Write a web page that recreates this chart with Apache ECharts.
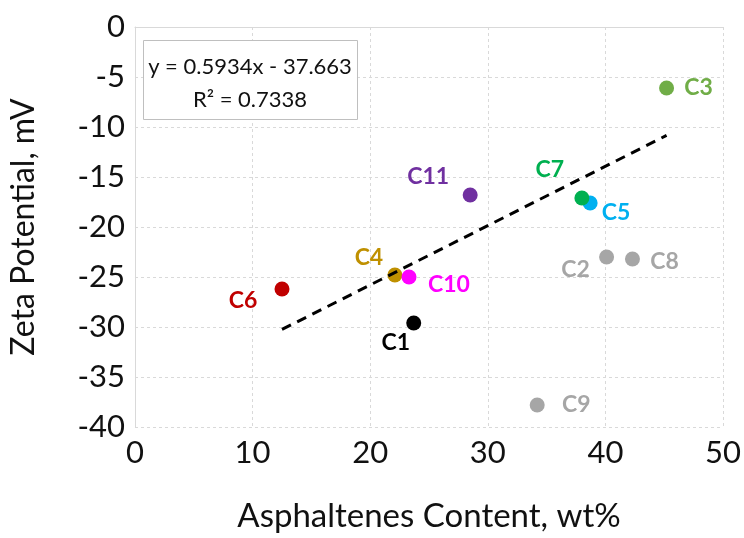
<!DOCTYPE html>
<html>
<head>
<meta charset="utf-8">
<script src="https://cdn.jsdelivr.net/npm/echarts@6/dist/echarts.min.js"></script>
<style>
  html, body { margin: 0; padding: 0; background: #fff; }
  #chart { width: 744px; height: 538px; }
</style>
</head>
<body>
<div id="chart"></div>
<script>
// Crude oil samples: asphaltene content vs. zeta potential
const sampleNames = ['C1', 'C2', 'C3', 'C4', 'C5', 'C6', 'C7', 'C8', 'C9', 'C10', 'C11'];
const asphaltenes = [23.7, 40.1, 45.2, 22.1, 38.7, 12.5, 38.0, 42.3, 34.2, 23.3, 28.5];
const zetaPotential = [-29.6, -23.0, -6.1, -24.8, -17.6, -26.2, -17.1, -23.2, -37.8, -25.0, -16.8];

// Linear fit reported for the data
const fitSlope = 0.5934;
const fitIntercept = -37.663;
const fitR2 = 0.7338;

const xTicks = [0, 10, 20, 30, 40, 50];
const yTicks = [0, -5, -10, -15, -20, -25, -30, -35, -40];

// Marker colour and label offset per sample
const sampleStyle = {
  C1:  { color: '#000000', offset: [-18, 20] },
  C2:  { color: '#a6a6a6', offset: [-31, 13] },
  C3:  { color: '#70ad47', offset: [32, 0] },
  C4:  { color: '#bf9000', offset: [-26, -17] },
  C5:  { color: '#00b0f0', offset: [26, 10] },
  C6:  { color: '#c00000', offset: [-39, 12] },
  C7:  { color: '#00b050', offset: [-32, -28] },
  C8:  { color: '#a6a6a6', offset: [32, 3] },
  C9:  { color: '#a6a6a6', offset: [39, 0] },
  C10: { color: '#ff00ff', offset: [40, 8] },
  C11: { color: '#7030a0', offset: [-42, -18] }
};

const points = sampleNames.map((n, i) => ({
  name: n,
  value: [asphaltenes[i], zetaPotential[i]],
  itemStyle: { color: sampleStyle[n].color, opacity: 1 },
  label: {
    show: true,
    formatter: n,
    position: 'inside',
    offset: sampleStyle[n].offset,
    color: sampleStyle[n].color,
    opacity: 1,
    fontSize: 23,
    fontWeight: 'bold',
    fontFamily: 'Lato'
  }
}));

const xMin = Math.min(...asphaltenes);
const xMax = Math.max(...asphaltenes);
const fitLine = [
  [xMin, fitSlope * xMin + fitIntercept],
  [xMax, fitSlope * xMax + fitIntercept]
];

const gridColor = '#d9d9d9';
const textColor = '#111111';
const font = 'Lato';

const chart = echarts.init(document.getElementById('chart'), null, { renderer: 'canvas' });
chart.setOption({
  animation: false,
  backgroundColor: '#fff',
  grid: { left: 131, right: 19, top: 27, bottom: 111 },
  xAxis: {
    type: 'value',
    min: xTicks[0],
    max: xTicks[xTicks.length - 1],
    interval: xTicks[1] - xTicks[0],
    name: 'Asphaltenes Content, wt%',
    nameLocation: 'middle',
    nameGap: 73,
    nameTextStyle: { fontSize: 33, color: textColor, fontFamily: font },
    axisLine: { show: true, lineStyle: { color: gridColor, width: 1 } },
    axisTick: { show: false },
    axisLabel: { fontSize: 31, color: textColor, fontFamily: font, margin: 10 },
    splitLine: { show: true, lineStyle: { color: gridColor, type: [3, 3], width: 1 } }
  },
  yAxis: {
    type: 'value',
    min: yTicks[yTicks.length - 1],
    max: yTicks[0],
    interval: 5,
    name: 'Zeta Potential, mV',
    nameLocation: 'middle',
    nameGap: 95,
    nameTextStyle: { fontSize: 32, color: textColor, fontFamily: font },
    axisLine: { show: true, lineStyle: { color: gridColor, width: 1 } },
    axisTick: { show: false },
    axisLabel: { fontSize: 31, color: textColor, fontFamily: font, margin: 10 },
    splitLine: { show: true, lineStyle: { color: gridColor, type: [3, 3], width: 1 } }
  },
  graphic: [
    {
      type: 'rect',
      left: 143, top: 40,
      shape: { width: 214, height: 79 },
      style: { fill: '#fff', stroke: '#bfbfbf', lineWidth: 1 },
      z: 10
    },
    {
      type: 'text',
      x: 250, y: 67,
      style: {
        text: 'y = ' + fitSlope + 'x - ' + Math.abs(fitIntercept),
        align: 'center', verticalAlign: 'middle',
        fontSize: 22, fontFamily: font, fill: textColor
      },
      z: 11
    },
    {
      type: 'text',
      x: 250, y: 100,
      style: {
        text: 'R\u00b2 = ' + fitR2,
        align: 'center', verticalAlign: 'middle',
        fontSize: 22, fontFamily: font, fill: textColor
      },
      z: 11
    }
  ],
  series: [
    {
      type: 'scatter',
      symbol: 'circle',
      symbolSize: 15,
      data: points,
      z: 3
    },
    {
      type: 'line',
      data: fitLine,
      showSymbol: false,
      symbol: 'none',
      lineStyle: { color: '#000', width: 3, type: [10, 7] },
      z: 4,
      silent: true
    }
  ]
});
</script>
</body>
</html>
